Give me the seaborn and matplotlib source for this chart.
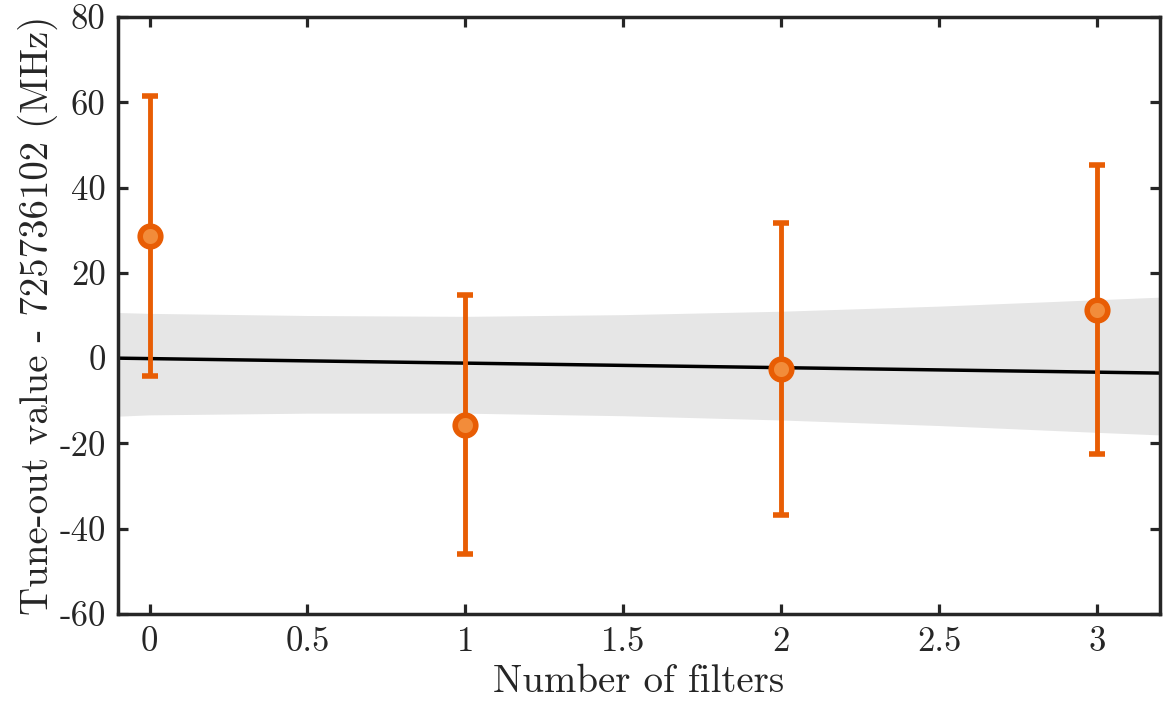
import numpy as np
import pandas as pd
import matplotlib
matplotlib.use("Agg")
import matplotlib.pyplot as plt
import seaborn as sns

# datos
filtros = [0, 1, 2, 3]
tuneout = [28.6, -15.7, -2.6, 11.3]
err_arriba = [61.4, 14.8, 31.7, 45.3]
err_abajo = [-4.2, -46.0, -36.8, -22.5]

# ajuste lineal y banda de confianza
ajuste_x = [-0.1, 3.2]
ajuste_y = [0.0, -3.5]
banda_x = [-0.1, 0.0, 0.5, 1.0, 1.5, 2.0, 2.5, 3.0, 3.2]
banda_sup = [10.7, 10.5, 10.0, 9.8, 10.2, 11.0, 12.2, 13.7, 14.3]
banda_inf = [-13.6, -13.3, -12.9, -12.9, -13.5, -14.5, -15.8, -17.4, -18.0]

sns.set_style("ticks")
plt.rcParams['font.family'] = ['cmr10', 'DejaVu Serif']
plt.rcParams['axes.unicode_minus'] = False
plt.rcParams['axes.formatter.use_mathtext'] = False

naranja = "#E85D04"
naranja_claro = "#F28C3A"
negro = "#262626"

fig = plt.figure(figsize=(11.64, 7.11), dpi=100)
ax = fig.add_axes([0.1014, 0.1364, 0.8952, 0.8397])

ax.fill_between(banda_x, banda_inf, banda_sup, color="#E6E6E6", linewidth=0, zorder=1)

df_fit = pd.DataFrame({"x": ajuste_x, "y": ajuste_y})
sns.lineplot(data=df_fit, x="x", y="y", color="black", linewidth=2.5, ax=ax, zorder=2)

df = pd.DataFrame({"filtros": filtros, "tuneout": tuneout,
                   "arriba": err_arriba, "abajo": err_abajo})
yerr = [df["tuneout"] - df["abajo"], df["arriba"] - df["tuneout"]]
ax.errorbar(df["filtros"], df["tuneout"], yerr=yerr, fmt="none",
            ecolor=naranja, elinewidth=3.5, capsize=6, capthick=4, zorder=3)
sns.scatterplot(data=df, x="filtros", y="tuneout", s=220, color=naranja_claro,
                edgecolor=naranja, linewidth=4, ax=ax, zorder=4)

ax.set_xlim(-0.1, 3.2)
ax.set_ylim(-60, 80)
ax.set_xticks([0, 0.5, 1, 1.5, 2, 2.5, 3])
ax.set_xticklabels(["0", "0.5", "1", "1.5", "2", "2.5", "3"])
ax.set_yticks(range(-60, 81, 20))
ax.set_yticklabels([str(v) for v in range(-60, 81, 20)])

ax.set_xlabel("Number of filters", fontsize=28, color=negro, labelpad=4)
ax.set_ylabel("Tune-out value - 725736102 (MHz)", fontsize=28, color=negro, labelpad=1)

ax.tick_params(direction="in", length=7, width=2.3, labelsize=25, colors=negro,
               top=True, right=True, pad=9)
for sp in ax.spines.values():
    sp.set_linewidth(2.5)
    sp.set_color(negro)

fig.savefig("out.png", dpi=100)
